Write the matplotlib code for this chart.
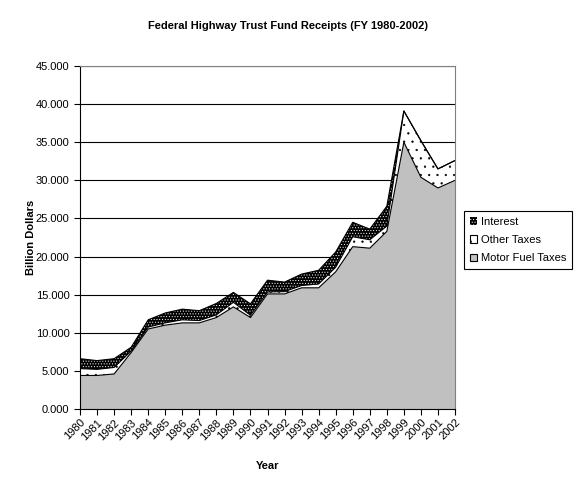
import numpy as np
import matplotlib
matplotlib.use('Agg')
import matplotlib.pyplot as plt
from matplotlib.patches import Patch
from matplotlib.ticker import FormatStrFormatter

plt.rcParams['font.family'] = ['Liberation Sans', 'DejaVu Sans']
plt.rcParams['hatch.linewidth'] = 0.4

years = list(range(1980, 2003))
# billions of dollars, stacked bottom to top
motor_fuel = [4.4, 4.4, 4.6, 7.4, 10.5, 11.0, 11.3, 11.3, 12.0, 13.4, 12.0, 15.1,
              15.1, 15.9, 15.9, 18.0, 21.3, 21.1, 23.3, 35.0, 30.4, 29.0, 30.0]
other_taxes = [0.9, 0.8, 0.85, 0.2, 0.25, 0.3, 0.4, 0.3, 0.35, 0.6, 0.3, 0.25,
               0.3, 0.3, 0.5, 0.6, 1.3, 1.1, 0.7, 4.1, 4.8, 2.5, 2.6]
interest = [1.3, 1.15, 1.15, 0.5, 0.95, 1.3, 1.4, 1.3, 1.5, 1.3, 1.5, 1.55,
            1.25, 1.5, 1.8, 2.0, 1.9, 1.4, 2.6, 0.0, 0.0, 0.0, 0.0]
yticks = np.arange(0, 45.1, 5)

x = np.arange(len(years))
m = np.array(motor_fuel)
o = m + np.array(other_taxes)
t = o + np.array(interest)

fig = plt.figure(figsize=(5.76, 4.86), dpi=100)
ax = fig.add_axes([80 / 576, 1 - 409 / 486, 375 / 576, 343 / 486])

# motor fuel: plain gray
ax.fill_between(x, 0, m, facecolor='#c0c0c0', edgecolor='none', zorder=2)
# other taxes: white with sparse black dots
ax.fill_between(x, m, o, facecolor='white', edgecolor='black', hatch='..',
                linewidth=0, zorder=2)
# interest: black with fine white dots
ax.fill_between(x, o, t, facecolor='black', edgecolor='white', hatch='......',
                linewidth=0, zorder=2)
for top in (m, o, t):
    ax.plot(x, top, color='black', lw=0.8, zorder=3)

ax.set_xlim(0, len(years) - 1)
ax.set_ylim(0, 45)
ax.set_yticks(yticks)
ax.yaxis.set_major_formatter(FormatStrFormatter('%.3f'))
ax.set_xticks(x)
ax.set_xticklabels([str(y) for y in years], rotation=45, ha='right',
                   rotation_mode='anchor')
ax.grid(axis='y', color='black', lw=0.8, zorder=1)
ax.set_axisbelow(True)
ax.tick_params(direction='out', length=4, width=0.8, labelsize=8, colors='black')
ax.tick_params(axis='x', pad=2)

for s in ('top', 'right'):
    ax.spines[s].set_color('#808080')
    ax.spines[s].set_zorder(4)
for s in ('left', 'bottom'):
    ax.spines[s].set_color('black')
    ax.spines[s].set_zorder(4)

fig.text(0.5, 1 - 26 / 486, 'Federal Highway Trust Fund Receipts (FY 1980-2002)',
         fontsize=8, fontweight='bold', ha='center', va='center')
ax.set_xlabel('Year', fontsize=8, fontweight='bold', labelpad=14)
ax.set_ylabel('Billion Dollars', fontsize=8, fontweight='bold', labelpad=0)

handles = [
    Patch(facecolor='black', edgecolor='white', hatch='......', lw=0),
    Patch(facecolor='white', edgecolor='black', hatch='..', lw=0.8),
    Patch(facecolor='#c0c0c0', edgecolor='black', lw=0.8),
]
leg = fig.legend(handles, ['Interest', 'Other Taxes', 'Motor Fuel Taxes'],
                 loc='center', bbox_to_anchor=(0.899, 0.506), fontsize=8,
                 fancybox=False, framealpha=1, edgecolor='black',
                 handlelength=0.7, handleheight=0.7, handletextpad=0.3,
                 borderpad=0.5, labelspacing=0.75, borderaxespad=0)
leg.get_frame().set_linewidth(0.8)

fig.savefig('out.png', dpi=100)
